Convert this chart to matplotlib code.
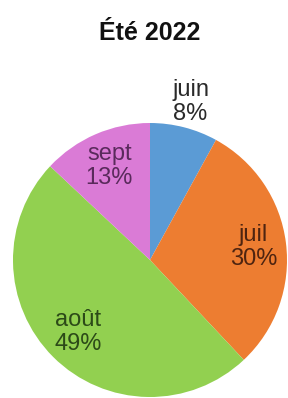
import numpy as np
import matplotlib.pyplot as plt

plt.rcParams['font.family'] = ['Liberation Sans', 'DejaVu Sans']

# data
months = ['juin', 'juil', 'août', 'sept']
shares = [8, 30, 49, 13]
colors = ['#5B9BD5', '#ED7D31', '#92D050', '#DA7BD6']
text_colors = ['#2A2A2A', '#4E2410', '#2C4A18', '#5A2A5C']
label_dist = [1.19, 0.76, 0.74, 0.75]

fig = plt.figure(figsize=(2.88, 3.98), dpi=100)
ax = fig.add_axes([13 / 288, 1 / 398, 274 / 288, 274 / 398])

wedges, _ = ax.pie(shares, colors=colors, startangle=90, counterclock=False,
                   radius=1, wedgeprops=dict(linewidth=0))
ax.set_xlim(-1, 1)
ax.set_ylim(-1, 1)
ax.set_aspect('equal')
ax.axis('off')

# labels "mois\nxx%" placed along each wedge's mid angle
for w, name, val, tc, d in zip(wedges, months, shares, text_colors, label_dist):
    mid = np.deg2rad((w.theta1 + w.theta2) / 2)
    ax.text(d * np.cos(mid), d * np.sin(mid), '%s\n%d%%' % (name, val),
            ha='center', va='center', fontsize=17, color=tc,
            linespacing=1.1, clip_on=False)

fig.text(0.52, 1 - 33 / 398, 'Été 2022', ha='center', va='center',
         fontsize=18, fontweight='bold', color='#111111')

fig.savefig('out.png', dpi=100)
